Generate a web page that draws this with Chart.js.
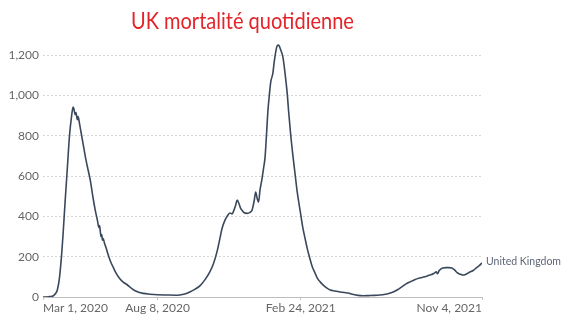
<!DOCTYPE html>
<html>
<head>
<meta charset="utf-8">
<script src="https://cdn.jsdelivr.net/npm/chart.js@4.4.1/dist/chart.umd.min.js"></script>
<style>
  html, body { margin: 0; padding: 0; background: #ffffff; }
  #wrap { position: relative; width: 581px; height: 318px; overflow: hidden; }
  #title { position: absolute; left: 0; top: 6px; width: 485px; text-align: center;
           font-family: Lato, "Open Sans", sans-serif; font-size: 23px; color: #e3242b; white-space: nowrap;
           transform: scaleX(0.87); transform-origin: 242px 0; }
  canvas { position: absolute; left: 0; top: 0; }
</style>
</head>
<body>
<div id="wrap">
  <canvas id="c" width="581" height="318"></canvas>
  <div id="title">UK mortalité quotidienne</div>
</div>
<script>
// ---- data (days since Mar 1, 2020 ; 7-day average daily deaths) ----
const chartTitle = 'UK mortalité quotidienne';
const seriesName = 'United Kingdom';
const days = [0,5,10,14,17,20,23,26,28,31,34,37,40,42,43,45,46,48,49,51,53,56,60,63,66,70,73,76,78,79,80,81,82,83,84,86,88,91,95,98,102,107,112,117,124,131,140,149,160,173,185,191,198,205,212,219,226,233,238,243,247,250,254,257,261,264,266,269,271,274,276,278,281,285,289,292,295,297,299,301,303,306,308,310,312,314,316,318,321,323,326,328,330,332,335,338,341,343,346,349,352,355,359,363,366,369,372,376,380,383,387,391,396,401,408,415,421,426,432,440,447,455,462,470,478,485,489,495,501,507,512,519,526,533,540,545,547,549,551,553,558,563,567,571,575,579,583,586,590,596,600,605,609,613];
const deaths = [0,0,2,5,15,35,95,210,310,480,640,800,900,942,935,905,915,880,895,860,820,760,680,630,580,490,430,380,345,355,325,300,310,282,290,265,245,210,170,148,118,92,74,62,42,27,18,14,11,10,9,10,15,25,38,55,85,125,165,225,290,340,380,400,417,412,425,455,481,460,440,430,418,415,420,432,480,521,490,471,530,590,640,690,800,920,1000,1066,1111,1170,1235,1250,1245,1225,1190,1110,1010,920,800,700,610,520,430,340,290,240,200,150,118,94,75,60,45,35,30,25,22,20,14,8,6,7,8,10,14,20,25,36,50,65,74,86,94,100,109,115,120,125,115,130,144,146,146,144,133,119,113,109,112,124,130,144,155,169];
const yTickValues = [0,200,400,600,800,1000,1200];
const xTickDays = [0,160,360,613];
const xTickLabels = ['Mar 1, 2020','Aug 8, 2020','Feb 24, 2021','Nov 4, 2021'];

const points = days.map((d, i) => ({x: d, y: deaths[i]}));

const endLabel = {
  id: 'endLabel',
  afterDatasetsDraw(chart) {
    const meta = chart.getDatasetMeta(0);
    const last = meta.data[meta.data.length - 1];
    const ctx = chart.ctx;
    ctx.save();
    ctx.font = '10.5px Lato, "Open Sans", sans-serif';
    ctx.fillStyle = '#5d6676';
    ctx.textAlign = 'left';
    ctx.textBaseline = 'middle';
    ctx.fillText(seriesName, last.x + 4, last.y - 1);
    ctx.restore();
  }
};

new Chart(document.getElementById('c'), {
  type: 'line',
  data: {
    datasets: [{
      label: seriesName,
      data: points,
      borderColor: '#3a485c',
      borderWidth: 1.6,
      pointRadius: 0,
      fill: false,
      cubicInterpolationMode: 'monotone'
    }]
  },
  options: {
    responsive: false,
    devicePixelRatio: 1,
    animation: false,
    layout: { padding: { top: 35, right: 99, left: 0, bottom: 0 } },
    plugins: { legend: { display: false }, tooltip: { enabled: false }, title: { display: false } },
    scales: {
      x: {
        type: 'linear',
        min: 0,
        max: 613,
        afterBuildTicks(scale) { scale.ticks = xTickDays.map(v => ({ value: v })); },
        afterFit(scale) { scale.height = 21; },
        grid: { drawOnChartArea: false, drawTicks: true, tickLength: 3, color: '#c8c8c8' },
        border: { display: true, color: '#bdbdbd', width: 1 },
        ticks: {
          autoSkip: false, maxRotation: 0, align: 'inner', padding: 1,
          color: '#666666',
          font: { family: 'Lato, "Open Sans", sans-serif', size: 12 },
          callback(v) { const i = xTickDays.indexOf(v); return i >= 0 ? xTickLabels[i] : ''; }
        }
      },
      y: {
        type: 'linear',
        min: 0,
        max: 1300,
        afterBuildTicks(scale) { scale.ticks = yTickValues.map(v => ({ value: v })); },
        afterFit(scale) { scale.width = 43; },
        grid: { drawTicks: false, color: '#d6d6d6', lineWidth: 1 },
        border: { display: false, dash: [2, 2] },
        ticks: {
          padding: 4,
          color: '#666666',
          font: { family: 'Lato, "Open Sans", sans-serif', size: 12 },
          callback(v) { return v.toLocaleString('en-US'); }
        }
      }
    }
  },
  plugins: [endLabel]
});
</script>
</body>
</html>
